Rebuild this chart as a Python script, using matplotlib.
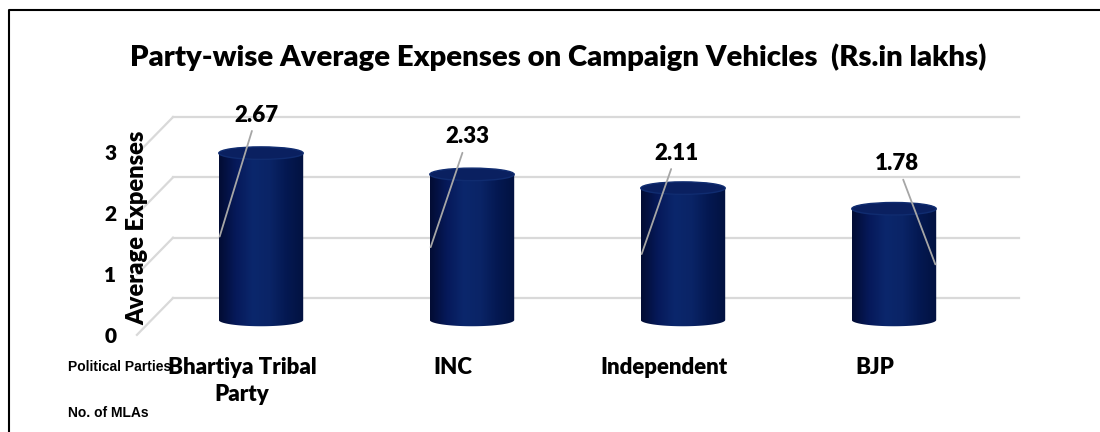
import numpy as np
import matplotlib
matplotlib.use('Agg')
from matplotlib import pyplot as plt
from matplotlib.colors import LinearSegmentedColormap
from matplotlib.patches import Ellipse, Polygon
from matplotlib.lines import Line2D

parties = ['Bhartiya Tribal\nParty', 'INC', 'Independent', 'BJP']
avg_expenses = [2.67, 2.33, 2.11, 1.78]
value_labels = ['2.67', '2.33', '2.11', '1.78']
y_ticks = [0, 1, 2, 3]

# where each data label sits, relative to the top of its cylinder
label_dx = [-0.02, -0.02, -0.03, 0.015]
label_dy = [0.61, 0.60, 0.56, 0.72]
leader_side = [-1, -1, -1, 1]

W, H = 1100, 432
fig = plt.figure(figsize=(W / 100, H / 100), dpi=100)
ax = fig.add_axes([0, 0, 1, 1])
# one category = 211 px, one unit of expense = 62.5 px
ax.set_xlim((0 - 261) / 211, (W - 261) / 211)
ax.set_ylim((320 - H) / 62.5, 320 / 62.5)
ax.axis('off')

font = ['Lato', 'DejaVu Sans']
narrow = ['Liberation Sans Narrow', 'Liberation Sans', 'DejaVu Sans']
grid_col = '#d9d9d9'
wt = 'heavy'

# back wall gridlines + floor diagonals (fake 3d)
back_x0, back_x1, front_x = -0.417, 3.592, -0.588
back_off, back_scale, drop = 0.352, 0.965, 0.59
for t in y_ticks:
    yb = back_off + back_scale * t
    ax.plot([back_x0, back_x1], [yb, yb], color=grid_col, lw=1.6, zorder=1)
    ax.plot([front_x, back_x0], [yb - drop, yb], color=grid_col, lw=1.6, zorder=1)
    ax.text(-0.715, -0.27 + 0.98 * t, str(t), ha='center', va='center',
            fontsize=15, fontweight=wt, family=font, zorder=5)

cmap = LinearSegmentedColormap.from_list(
    'cyl', ['#020c33', '#06195a', '#0b276c', '#0a2466', '#041851', '#021240'])
grad = np.linspace(0, 1, 256).reshape(1, -1)

bars = ax.bar(range(len(parties)), avg_expenses, width=0.4, color='none', zorder=2)
ell_h = 0.2
for i, rect in enumerate(bars):
    x0, w, v = rect.get_x(), rect.get_width(), rect.get_height()
    xc = x0 + w / 2
    th = np.linspace(np.pi, 2 * np.pi, 60)
    bottom = np.column_stack([xc + w / 2 * np.cos(th), ell_h / 2 * np.sin(th)])
    outline = np.vstack([bottom, [[x0 + w, v], [x0, v]]])
    clip = Polygon(outline, closed=True, transform=ax.transData, facecolor='none',
                   edgecolor='none')
    ax.add_patch(clip)
    im = ax.imshow(grad, cmap=cmap, extent=[x0, x0 + w, -ell_h, v], aspect='auto',
                   zorder=3, interpolation='bicubic')
    im.set_clip_path(clip)
    ax.add_patch(Ellipse((xc, v), w, ell_h, facecolor='#0a2060',
                         edgecolor='#102c70', lw=1, zorder=4))

    ax.annotate(value_labels[i], xy=(xc + leader_side[i] * w / 2 * 0.98, v / 2),
                xytext=(xc + label_dx[i], v + label_dy[i]),
                ha='center', va='center', fontsize=16, fontweight=wt,
                family=font, zorder=6,
                arrowprops=dict(arrowstyle='-', color='#a6a6a6', lw=1.3,
                                shrinkA=2, shrinkB=0))

    ax.text(i - 0.09, -0.59, parties[i], ha='center', va='top', fontsize=16,
            fontweight=wt, family=font, linespacing=1.35, zorder=6)

fig.text(558 / W, 1 - 57 / H,
         'Party-wise Average Expenses on Campaign Vehicles  (Rs.in lakhs)',
         ha='center', va='center', fontsize=21.1, fontweight=wt, family=font)
fig.text(137 / W, 1 - 228 / H, 'Average Expenses', rotation=90, ha='center',
         va='center', fontsize=17, fontweight=wt, family=font, zorder=7)
fig.text(68 / W, 1 - 367 / H, 'Political Parties', ha='left', va='center',
         fontsize=10, fontweight='bold', family=narrow)
fig.text(68 / W, 1 - 413 / H, 'No. of MLAs', ha='left', va='center',
         fontsize=10, fontweight='bold', family=narrow)

# outer frame (only top and left visible in the crop)
fig.add_artist(Line2D([9 / W, 9 / W, 1.0], [0, 1 - 10 / H, 1 - 10 / H],
                      color='black', lw=1.5, transform=fig.transFigure))

fig.savefig('out.png', dpi=100)
